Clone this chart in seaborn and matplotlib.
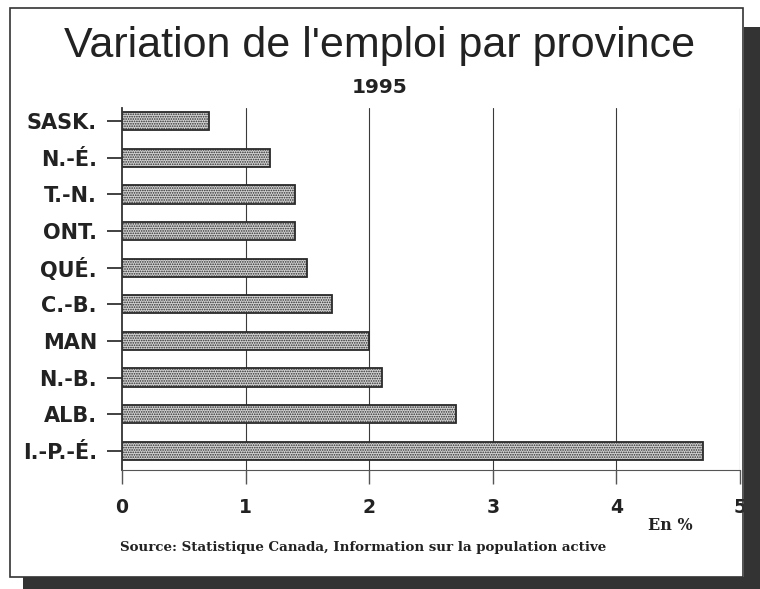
import matplotlib
matplotlib.use('Agg')
import matplotlib.pyplot as plt
import seaborn as sns
import pandas as pd
from matplotlib.patches import Rectangle

provinces = ['SASK.', 'N.-É.', 'T.-N.', 'ONT.', 'QUÉ.', 'C.-B.', 'MAN', 'N.-B.', 'ALB.', 'I.-P.-É.']
variation = [0.7, 1.2, 1.4, 1.4, 1.5, 1.7, 2.0, 2.1, 2.7, 4.7]
xticks = [0, 1, 2, 3, 4, 5]

df = pd.DataFrame({'province': provinces, 'variation': variation})

sns.set_style('white')
plt.rcParams['font.family'] = ['Liberation Sans', 'DejaVu Sans']
plt.rcParams['hatch.color'] = '#444444'
plt.rcParams['hatch.linewidth'] = 0.8

fig = plt.figure(figsize=(7.6, 5.89), dpi=100)
ax = fig.add_axes([0.1605, 0.2020, 0.8132, 0.6146])

sns.barplot(data=df, x='variation', y='province', order=provinces, orient='h',
            color='#d2d2d2', width=0.5, edgecolor='#2a2a2a', linewidth=1.3, ax=ax)
for p in ax.patches:
    p.set_hatch('.......')

ax.set_xlim(0, 5)
ax.set_ylim(9.52, -0.355)
ax.set_xticks(xticks)
ax.set_xticklabels([str(t) for t in xticks], fontsize=13.5, fontweight='bold',
                   family='DejaVu Sans', color='#222222')
ax.tick_params(axis='x', length=10, width=1, color='#555555', pad=10, direction='out', bottom=True)
ax.tick_params(axis='y', length=11, width=1.3, color='#333333', pad=7, left=True)
for lab in ax.get_yticklabels():
    lab.set_fontsize(15)
    lab.set_fontweight('bold')
    lab.set_family('DejaVu Sans')
    lab.set_color('#222222')
ax.set_xlabel('')
ax.set_ylabel('')
for x in xticks[1:]:
    ax.axvline(x, color='#3a3a3a', linewidth=0.8, zorder=0)
for s in ['top', 'right']:
    ax.spines[s].set_visible(False)
ax.spines['left'].set_color('#333333')
ax.spines['bottom'].set_color('#555555')
ax.spines['left'].set_linewidth(1.3)

fig.text(0.5, 0.922, "Variation de l'emploi par province", ha='center', va='center',
         fontsize=31, color='#222222')
fig.text(0.5, 0.851, '1995', ha='center', va='center', fontsize=14.5,
         fontweight='bold', family='DejaVu Sans', color='#222222')
fig.text(0.853, 0.107, 'En %', ha='left', va='center', fontsize=11.5,
         fontweight='bold', family=['DejaVu Serif'], color='#222222')
fig.text(0.158, 0.070, 'Source: Statistique Canada, Information sur la population active',
         ha='left', va='center', fontsize=9.6, fontweight='bold',
         family=['DejaVu Serif'], color='#222222')

# cadre et ombre
fig.add_artist(Rectangle((0.013, 0.021), 0.965, 0.966, transform=fig.transFigure,
                         fill=False, edgecolor='#333333', linewidth=1.2, zorder=10))
fig.add_artist(Rectangle((0.979, 0.0), 0.021, 0.955, transform=fig.transFigure,
                         facecolor='#333333', edgecolor='none', zorder=10))
fig.add_artist(Rectangle((0.03, 0.0), 0.97, 0.021, transform=fig.transFigure,
                         facecolor='#333333', edgecolor='none', zorder=10))

fig.savefig('out.png', dpi=100)
